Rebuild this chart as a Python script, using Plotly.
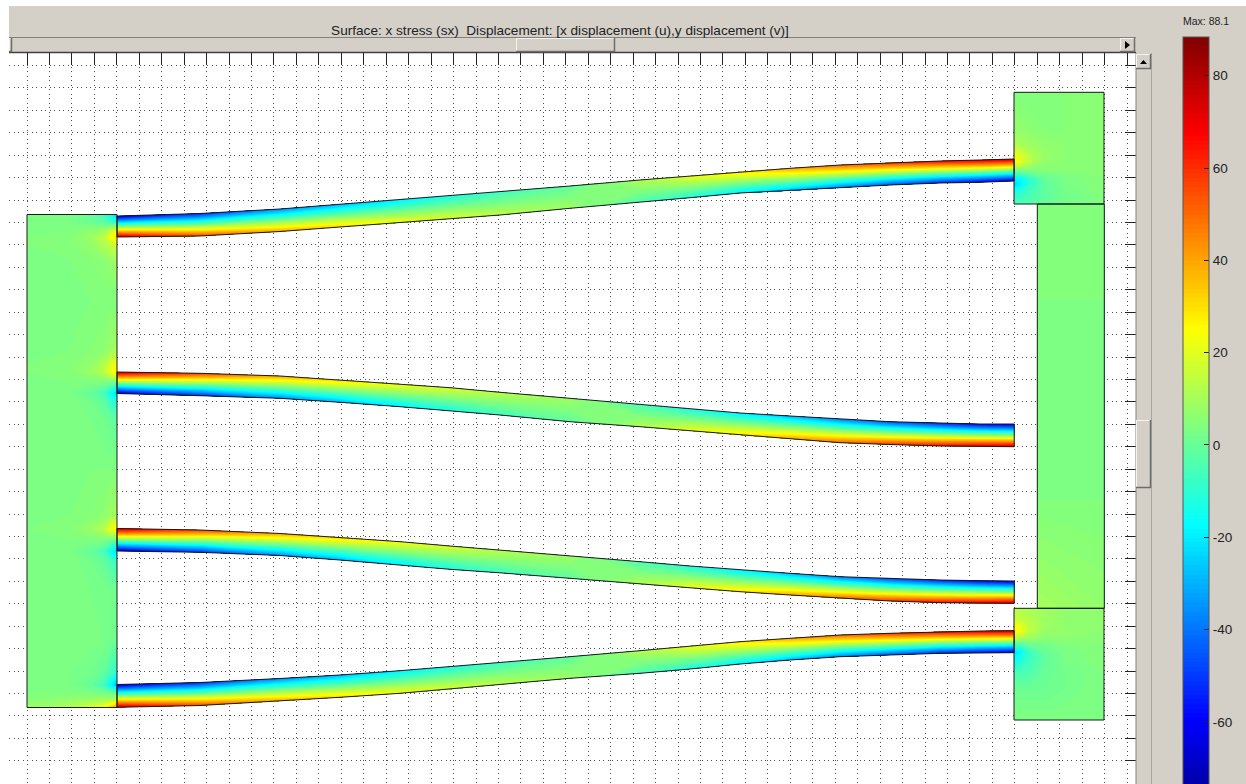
import plotly.graph_objects as go

# Beam stations (horizontal position) shared by all four beams
beam_x = [117, 200, 280, 340, 400, 450, 500, 570, 640, 690, 740, 790, 840, 890, 940, 980, 1014, 1014.2]
beam_a = list(range(len(beam_x)))

# Beam edges
beam1_top = [216, 213.5, 209, 204.3, 200, 195.7, 192, 186, 180, 176, 171.7, 168.3, 165, 162.7, 161, 160, 159, 159]
beam1_bot = [237, 236, 231.5, 226.7, 222.7, 218.7, 215, 208.3, 202, 197.7, 193, 190.7, 187.7, 185, 183, 182.3, 181, 181]
beam2_top = [372, 373.3, 376, 380, 384, 387.7, 392.3, 398.3, 405, 409.3, 413, 416, 419, 421.7, 423, 424, 424, 424]
beam2_bot = [393.5, 395.7, 398.3, 402.3, 406.7, 410.7, 415, 421.7, 426.7, 430.7, 435, 438.7, 442.7, 444.5, 446, 446.3, 446.7, 446.7]
beam3_top = [528.5, 530, 533.5, 537.3, 541.7, 546, 550, 556, 561.7, 566, 570, 573.3, 576.7, 578.7, 580, 580.7, 581, 581]
beam3_bot = [551, 552.3, 555.5, 560, 565, 569.3, 572.8, 578.3, 584, 587.7, 591.7, 595, 598.3, 601, 602.7, 603.3, 603.3, 603.3]
beam4_top = [684.5, 682.5, 678.5, 675, 670.7, 666.7, 662.8, 656.7, 650.7, 646, 641.7, 638.3, 635, 633.3, 631.7, 631, 630.7, 630.7]
beam4_bot = [707.3, 705.5, 701, 697.3, 693.3, 689.3, 684.5, 678.3, 673.3, 669, 664, 660, 656.7, 655, 653.3, 653, 652.7, 652.7]

# Stress along each beam edge
beam1_top_sx = [-66, -52, -36, -29, -20, -13, -7, -1, 12, 22, 30, 40, 50, 58, 66, 71, 74, 74]
beam1_bot_sx = [74, 56, 40, 32, 24, 19, 14, 9, -4, -12, -20, -29, -38, -46, -54, -60, -64, -64]
beam2_top_sx = [74, 56, 40, 32, 24, 19, 14, 9, -4, -12, -20, -29, -38, -46, -54, -60, -64, -64]
beam2_bot_sx = [-66, -52, -36, -29, -20, -13, -7, -1, 12, 22, 30, 40, 50, 58, 66, 71, 74, 74]
beam3_top_sx = [74, 56, 40, 32, 24, 19, 14, 9, -4, -12, -20, -29, -38, -46, -54, -60, -64, -64]
beam3_bot_sx = [-66, -52, -36, -29, -20, -13, -7, -1, 12, 22, 30, 40, 50, 58, 66, 71, 74, 74]
beam4_top_sx = [-66, -52, -36, -29, -20, -13, -7, -1, 12, 22, 30, 40, 50, 58, 66, 71, 74, 74]
beam4_bot_sx = [74, 56, 40, 32, 24, 19, 14, 9, -4, -12, -20, -29, -38, -46, -54, -60, -64, -64]

# Left block
left_x = [27, 70, 90, 103, 111, 117]
left_y = [214.5, 222, 230, 237, 245, 260, 300, 350, 365, 372, 382, 393, 402, 420,
          470, 515, 529, 540, 551, 562, 590, 640, 672, 685, 692, 700, 707.5]
left_sx = [
    [4, 3, 0, -6, -18, -30], [4, 3, 1, -2, -6, -10], [4, 4, 6, 8, 14, 20],
    [4, 5, 8, 14, 24, 30], [4, 5, 7, 11, 15, 18], [4, 4, 5, 6, 8, 9],
    [4, 4, 4, 4, 4, 4], [4, 4, 5, 6, 9, 10], [4, 5, 7, 12, 20, 24],
    [4, 5, 8, 13, 23, 28], [4, 4, 4, 4, 3, 2], [4, 3, 0, -5, -16, -24],
    [4, 4, 2, -1, -8, -12], [4, 4, 3, 2, 0, -1], [4, 4, 4, 4, 4, 4],
    [4, 4, 5, 6, 9, 10], [4, 5, 8, 13, 23, 28], [4, 4, 4, 4, 2, 1],
    [4, 3, 0, -5, -16, -24], [4, 4, 2, 0, -5, -8], [4, 4, 3, 3, 2, 2],
    [4, 4, 4, 3, 2, 1], [4, 3, 2, 0, -6, -10], [4, 3, 0, -6, -18, -30],
    [4, 4, 3, 2, -1, -4], [5, 7, 9, 10, 12, 16], [8, 12, 18, 24, 35, 45],
]

# Upper right block
upper_x = [1014, 1020, 1030, 1045, 1065, 1104]
upper_y = [92.3, 130, 145, 155, 162, 170, 178, 184, 192, 204]
upper_sx = [
    [4, 4, 4, 4, 5, 6], [7, 7, 6, 5, 5, 6], [12, 11, 9, 7, 6, 6],
    [22, 20, 13, 8, 6, 6], [26, 22, 13, 7, 6, 6], [4, 5, 5, 5, 5, 6],
    [-18, -16, -8, 0, 3, 5], [-24, -20, -10, -1, 3, 5],
    [-12, -10, -6, -1, 2, 5], [-4, -4, -3, -1, 2, 4],
]

# Lower right block
lower_x = [1014, 1020, 1030, 1045, 1065, 1104]
lower_y = [608.3, 618, 625, 631, 638, 645, 652, 660, 672, 690, 720]
lower_sx = [
    [12, 12, 11, 9, 7, 6], [16, 15, 12, 9, 7, 6], [24, 20, 14, 9, 7, 6],
    [28, 24, 14, 8, 7, 6], [14, 12, 9, 6, 6, 6], [-8, -5, 0, 2, 4, 5],
    [-22, -18, -7, 0, 3, 5], [-16, -13, -7, -1, 3, 5], [-5, -5, -4, 0, 2, 4],
    [1, 1, 1, 1, 2, 4], [4, 4, 4, 4, 4, 4],
]

# Connecting bar
bar_x = [1037.3, 1104.3]
bar_y = [204, 300, 500, 608.3]
bar_sx = [[5, 5], [4, 4], [4, 4], [10, 7]]

# Colour scale
sx_min = -80
sx_max = 88.1
cbar_vals = [80, 60, 40, 20, 0, -20, -40, -60]
cbar_text = ["80", "60", "40", "20", "0", "-20", "-40", "-60"]
jet = [[0, "#00007f"], [0.125, "#0000ff"], [0.375, "#00ffff"],
       [0.625, "#ffff00"], [0.875, "#ff0000"], [1, "#7f0000"]]

TITLE = "Surface: x stress (sx) \u00a0Displacement: [x displacement (u),y displacement (v)]"
CHROME = "#d4d0c8"
FONT = "Liberation Sans"

# Plot window on the page
PL, PR, PT, PB = 9, 1136, 53, 784
W, H = 1246, 784
def X(p): return (p - PL) / (PR - PL)
def Y(p): return 1 - (p - PT) / (PB - PT)

fig = go.Figure()
LEVELS = dict(start=-80, end=88, size=1, coloring="fill")

def add_block(x, y, z):
    fig.add_trace(go.Contour(x=x, y=y, z=z, coloraxis="coloraxis", contours=LEVELS,
                             line=dict(width=0, smoothing=0), hoverinfo="skip"))
    fig.add_trace(go.Scatter(x=[x[0], x[-1], x[-1], x[0], x[0]],
                             y=[y[0], y[0], y[-1], y[-1], y[0]], mode="lines",
                             line=dict(color="#1a1a1a", width=1), hoverinfo="skip"))

AX = dict(showgrid=False, showline=False, showticklabels="none",
          startline=False, endline=False, minorgridcount=0, smoothing=0)

def add_beam(name, top, bot, top_sx, bot_sx):
    fig.add_trace(go.Carpet(carpet=name, a=beam_a, b=[0, 1],
                            x=[beam_x, beam_x], y=[top, bot],
                            aaxis=AX, baxis=AX))
    fig.add_trace(go.Contourcarpet(carpet=name, a=beam_a, b=[0, 1], z=[top_sx, bot_sx],
                                   coloraxis="coloraxis", contours=LEVELS, autocontour=False,
                                   line=dict(width=0, smoothing=0)))
    fig.add_trace(go.Scatter(x=beam_x + beam_x[::-1] + beam_x[:1],
                             y=top + bot[::-1] + top[:1], mode="lines",
                             line=dict(color="#1a1a1a", width=1), hoverinfo="skip"))

add_block(bar_x, bar_y, bar_sx)
add_block(left_x, left_y, left_sx)
add_block(upper_x, upper_y, upper_sx)
add_block(lower_x, lower_y, lower_sx)
add_beam("b1", beam1_top, beam1_bot, beam1_top_sx, beam1_bot_sx)
add_beam("b2", beam2_top, beam2_bot, beam2_top_sx, beam2_bot_sx)
add_beam("b3", beam3_top, beam3_bot, beam3_top_sx, beam3_bot_sx)
add_beam("b4", beam4_top, beam4_bot, beam4_top_sx, beam4_bot_sx)

def rect(x0, y0, x1, y1, fill=CHROME, line=None, w=1):
    return dict(type="rect", xref="paper", yref="paper", x0=X(x0), x1=X(x1), y0=Y(y0), y1=Y(y1),
                fillcolor=fill, line=dict(color=line or fill, width=w if line else 0), layer="above")

def hline(x0, x1, y, color, w=1):
    return dict(type="line", xref="paper", yref="paper", x0=X(x0), x1=X(x1), y0=Y(y), y1=Y(y),
                line=dict(color=color, width=w), layer="above")

def vline(x, y0, y1, color, w=1):
    return dict(type="line", xref="paper", yref="paper", x0=X(x), x1=X(x), y0=Y(y0), y1=Y(y1),
                line=dict(color=color, width=w), layer="above")

def tri(points):
    path = "M" + " L".join(f"{X(a)},{Y(b)}" for a, b in points) + " Z"
    return dict(type="path", xref="paper", yref="paper", path=path, fillcolor="black",
                line=dict(width=0), layer="above")

def bevel(x0, y0, x1, y1):
    return [rect(x0, y0, x1, y1, CHROME),
            hline(x0, x1, y0 + 0.5, "#f4f3ef"), vline(x0 + 0.5, y0, y1, "#f4f3ef"),
            hline(x0, x1, y1 - 0.5, "#6e6c68", 1.5), vline(x1 - 0.5, y0, y1, "#6e6c68", 1.5)]

shapes = [
    rect(0, 0, W, 6, "white"),
    rect(0, 0, 9, H, "white"),
    # horizontal scrollbar
    hline(9, 1136, 37.5, "#808080"),
    hline(9, 1136, 52.5, "#404040", 1.5),
    *bevel(9, 38, 12, 52),
    *bevel(516, 38, 615, 52),
    *bevel(1120, 38, 1135, 52),
    tri([(1125, 41), (1130, 45), (1125, 49)]),
    # vertical scrollbar
    rect(1136, 53, 1151, H, CHROME),
    vline(1151.5, 53, H, "#a8a5a0"),
    vline(1136, 53, H, "#808080"),
    *bevel(1136, 54, 1151, 69),
    tri([(1140, 64), (1147, 64), (1143.5, 60)]),
    *bevel(1136, 420, 1151, 488),
]
# left-hand colour bar ticks
for v in cbar_vals:
    yp = 445 - v * 4.64
    shapes.append(hline(1183, 1188, yp, "#222222"))

fig.update_layout(
    width=W, height=H, autosize=False,
    paper_bgcolor=CHROME, plot_bgcolor="white", showlegend=False,
    margin=dict(l=PL, r=W - PR, t=PT, b=H - PB, pad=0, autoexpand=False),
    font=dict(family=FONT, color="#222222", size=12),
    title=dict(text=TITLE, x=560 / W, y=1 - 30 / H, xanchor="center", yanchor="middle",
               xref="container", yref="container", font=dict(family=FONT, size=13.6, color="#222222")),
    xaxis=dict(range=[PL, PR], side="top", tick0=27, dtick=22.45, ticks="inside", ticklen=12,
               tickcolor="#222222", showticklabels=False, showgrid=True, gridcolor="#4d4d4d",
               griddash="1px,3.5px", gridwidth=1, zeroline=False, showline=False, fixedrange=True),
    yaxis=dict(range=[PB, PT], side="right", tick0=65.5, dtick=22.43, ticks="inside", ticklen=11,
               tickcolor="#222222", showticklabels=False, showgrid=True, gridcolor="#4d4d4d",
               griddash="1px,3.5px", gridwidth=1, zeroline=False, showline=False, fixedrange=True),
    coloraxis=dict(
        cmin=sx_min, cmax=sx_max, colorscale=jet, showscale=True,
        colorbar=dict(
            lenmode="pixels", len=(sx_max - sx_min) * 4.64, thicknessmode="pixels", thickness=26,
            x=X(1183), xanchor="left", xpad=0, y=Y(36.5), yanchor="top", ypad=0,
            tickmode="array", tickvals=cbar_vals, ticktext=cbar_text, ticks="inside", ticklen=5,
            tickcolor="#222222", tickfont=dict(family=FONT, size=13.5, color="#222222"),
            outlinecolor="#555555", outlinewidth=1, borderwidth=0, bgcolor="rgba(0,0,0,0)",
        ),
    ),
    shapes=shapes,
    annotations=[dict(text="Max: 88.1", xref="paper", yref="paper", x=X(1206), y=Y(21.5),
                      xanchor="center", yanchor="middle", showarrow=False,
                      font=dict(family=FONT, size=10.5, color="#222222"))],
)

fig.write_html("out.html", config=dict(displayModeBar=False),
               post_script="document.body.style.margin='0';document.body.style.overflow='hidden';")
